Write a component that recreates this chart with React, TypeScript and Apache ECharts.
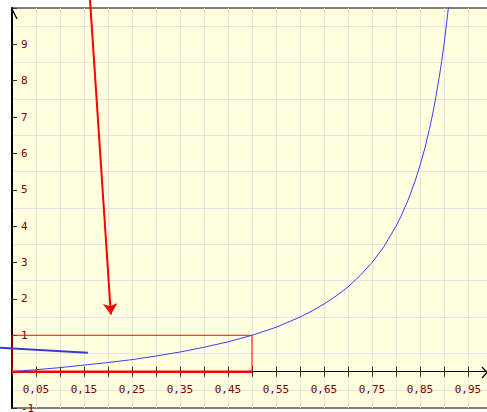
import React, { useEffect, useRef } from "react";
import * as echarts from "echarts";

// Curve (x, y)
const curveX = [0, 0.05, 0.1, 0.15, 0.2, 0.25, 0.3, 0.35, 0.4, 0.45, 0.5, 0.55, 0.6, 0.625, 0.65, 0.675, 0.7, 0.725, 0.75, 0.775, 0.8, 0.81, 0.825, 0.84, 0.85, 0.86, 0.87, 0.875, 0.88, 0.89, 0.895, 0.9, 0.905, 0.91];
const curveY = [0, 0.053, 0.11, 0.18, 0.25, 0.33, 0.43, 0.54, 0.67, 0.82, 1.0, 1.22, 1.5, 1.67, 1.86, 2.08, 2.33, 2.64, 3.0, 3.44, 4.0, 4.26, 4.71, 5.25, 5.67, 6.14, 6.69, 7.0, 7.33, 8.09, 8.52, 9.0, 9.53, 10.1];

// Red rectangle outline (0..0.5 by 0..1)
const rectX = [0, 0, 0.5, 0.5];
const rectY = [0, 1, 1, 0];
const baseX = [0, 0.5];
const baseY = [0, 0];

// Red arrow
const arrowFrom = [0.1625, 10.23];
const arrowTo = [0.206, 1.57];

// Blue segment
const segFrom = [-0.025, 0.66];
const segTo = [0.158, 0.52];

const xMin = 0;
const xMax = 1;
const xStep = 0.05;
const yMin = -1;
const yMax = 10;
const yStep = 1;

const labelColor = "#800000";
const font = "DejaVu Sans Mono";

const GRID_TOP = 8;
const GRID_BOTTOM = 4;
const H = 412;

export default function App() {
  const ref = useRef<HTMLDivElement>(null);
  useEffect(() => {
    if (!ref.current) return;
    const chart = echarts.init(ref.current, null, { renderer: "svg" });
    const zip = (xs: number[], ys: number[]) => xs.map((x, i) => [x, ys[i]]);
    const plotH = H - GRID_TOP - GRID_BOTTOM;
    const zeroOffset = -(plotH * (0 - yMin)) / (yMax - yMin);
    chart.setOption({
      animation: false,
      backgroundColor: "#ffffff",
      grid: {
        left: 12,
        right: -5,
        top: GRID_TOP,
        bottom: GRID_BOTTOM,
        containLabel: false,
        outerBoundsMode: "none",
        show: true,
        backgroundColor: "#ffffe0",
        borderColor: "#555555",
        borderWidth: 1.5,
      },
      xAxis: [
        {
          type: "value",
          min: xMin,
          max: xMax,
          interval: xStep,
          position: "bottom",
          offset: zeroOffset,
          axisLine: { show: true, onZero: false, lineStyle: { color: "#000000", width: 1 } },
          axisTick: { show: true, length: 5, lineStyle: { color: "#333333" } },
          axisLabel: {
            color: labelColor,
            fontFamily: font,
            fontSize: 11,
            margin: 12,
            showMinLabel: true,
            showMaxLabel: true,
            hideOverlap: false,
            formatter: (v: number) => {
              const k = Math.round(v / xStep);
              if (k % 2 === 0) return "";
              return v.toFixed(2).replace(".", ",");
            },
          },
          splitLine: { show: true, lineStyle: { color: "#e4e4e4", width: 1 } },
        },
        {
          type: "value",
          min: xMin,
          max: xMax,
          interval: xStep,
          position: "bottom",
          offset: zeroOffset,
          axisLine: { show: false, onZero: false },
          axisTick: { show: true, inside: true, length: 5, lineStyle: { color: "#333333" } },
          axisLabel: { show: false },
          splitLine: { show: false },
        },
      ],
      yAxis: {
        type: "value",
        min: yMin,
        max: yMax,
        interval: yStep,
        axisLine: { show: true, onZero: false, lineStyle: { color: "#000000", width: 2 } },
        axisTick: { show: true, inside: true, length: 5, lineStyle: { color: "#333333" } },
        axisLabel: {
          inside: true,
          margin: 9,
          color: labelColor,
          fontFamily: font,
          fontSize: 11,
          formatter: (v: number) => (v === 0 || v === 10 ? "" : String(v)),
        },
        splitLine: { show: false },
        minorTick: { show: false, splitNumber: 2 },
        minorSplitLine: { show: true, lineStyle: { color: "#e4e4e4", width: 1 } },
      },
      series: [
        {
          type: "line",
          data: zip(rectX, rectY),
          symbol: "none",
          lineStyle: { color: "#ff0000", width: 1 },
          z: 3,
        },
        {
          type: "line",
          data: zip(baseX, baseY),
          symbol: "none",
          lineStyle: { color: "#ff0000", width: 2.5 },
          z: 3,
        },
        {
          type: "line",
          data: zip(curveX, curveY),
          symbol: "none",
          smooth: false,
          lineStyle: { color: "#3c3cff", width: 1 },
          z: 4,
        },
        {
          type: "lines",
          coordinateSystem: "cartesian2d",
          clip: false,
          symbol: ["none", "arrow"],
          symbolSize: [8, 11],
          lineStyle: { color: "#ff0000", width: 2, curveness: 0, opacity: 1 },
          itemStyle: { color: "#ff0000" },
          data: [{ coords: [arrowFrom, arrowTo] }],
          z: 5,
        },
        {
          type: "lines",
          coordinateSystem: "cartesian2d",
          clip: false,
          symbol: "none",
          lineStyle: { color: "#3a3acb", width: 2, curveness: 0, opacity: 1 },
          data: [{ coords: [segFrom, segTo] }],
          z: 5,
        },
      ],
      graphic: [
        {
          type: "polyline",
          shape: { points: [[12, 9], [17, 19]] },
          style: { stroke: "#000000", lineWidth: 1.2, fill: null },
          z: 10,
        },
        {
          type: "polyline",
          shape: { points: [[482, 367], [487, 372.5], [482, 378]] },
          style: { stroke: "#000000", lineWidth: 1.2, fill: null },
          z: 10,
        },
      ],
    });
    return () => chart.dispose();
  }, []);
  return (
    <div
      ref={ref}
      style={{ position: "fixed", left: 0, top: 0, width: 487, height: 412 }}
    />
  );
}
